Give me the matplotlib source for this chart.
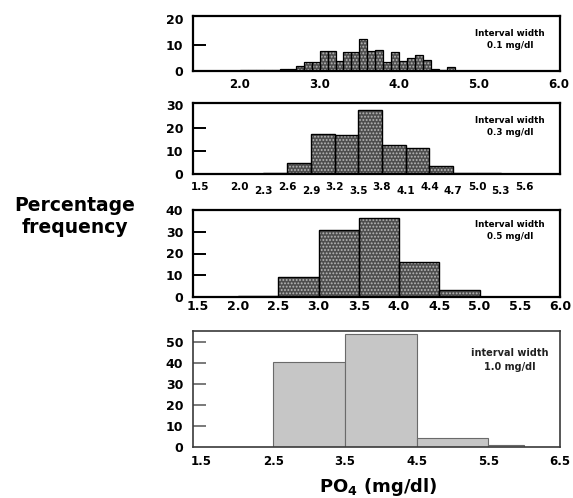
import matplotlib
matplotlib.use("Agg")
import matplotlib.pyplot as plt
import numpy as np

# ---------------- data ----------------
# Panel 1: interval width 0.1 mg/dl (left bin edges, % frequency)
p1_bins = [2.0, 2.1, 2.2, 2.3, 2.4, 2.5, 2.6, 2.7, 2.8, 2.9, 3.0, 3.1, 3.2, 3.3,
           3.4, 3.5, 3.6, 3.7, 3.8, 3.9, 4.0, 4.1, 4.2, 4.3, 4.4, 4.5, 4.6]
p1_vals = [0.3, 0.3, 0.3, 0.4, 0.5, 0.6, 0.9, 2.0, 3.3, 3.3, 7.6, 7.6, 3.7, 7.4,
           7.4, 12.4, 7.5, 8.2, 3.3, 7.2, 3.9, 4.8, 6.1, 4.3, 0.7, 0.3, 1.7]
p1_xticks = [2.0, 3.0, 4.0, 5.0, 6.0]
p1_yticks = [0, 10, 20]

# Panel 2: interval width 0.3 mg/dl
p2_bins = [2.0, 2.3, 2.6, 2.9, 3.2, 3.5, 3.8, 4.1, 4.4, 4.7, 5.0]
p2_vals = [0.2, 0.3, 4.8, 17.4, 17.0, 28.0, 12.6, 11.2, 3.6, 0.3, 0.3]
p2_xticks_upper = [1.5, 2.0, 2.6, 3.2, 3.8, 4.4, 5.0, 5.6]
p2_xticks_lower = [2.3, 2.9, 3.5, 4.1, 4.7, 5.3]
p2_yticks = [0, 10, 20, 30]

# Panel 3: interval width 0.5 mg/dl
p3_bins = [2.0, 2.5, 3.0, 3.5, 4.0, 4.5]
p3_vals = [0.3, 9.3, 31.0, 36.3, 16.2, 3.0]
p3_xticks = [1.5, 2.0, 2.5, 3.0, 3.5, 4.0, 4.5, 5.0, 5.5, 6.0]
p3_yticks = [0, 10, 20, 30, 40]

# Panel 4: interval width 1.0 mg/dl (bin edges)
p4_edges = [2.5, 3.5, 4.5, 5.5, 6.0]
p4_vals = [40.3, 53.7, 4.1, 0.8]
p4_xticks = [1.5, 2.5, 3.5, 4.5, 5.5, 6.5]
p4_yticks = [0, 10, 20, 30, 40, 50]

titles = ["Interval width\n0.1 mg/dl", "Interval width\n0.3 mg/dl",
          "Interval width\n0.5 mg/dl", "interval width\n1.0 mg/dl"]

# ---------------- figure ----------------
W, H = 573, 498
plt.rcParams['font.family'] = ['DejaVu Sans']
plt.rcParams['hatch.linewidth'] = 0.9
fig = plt.figure(figsize=(W / 100, H / 100), dpi=100)

left_px, right_px = 193, 560


def make_ax(top_px, bot_px):
    return fig.add_axes([left_px / W, 1 - bot_px / H,
                         (right_px - left_px) / W, (bot_px - top_px) / H])


def stipple_bars(ax, x, h, width, lw):
    # dark stippled fill, then a black outline
    ax.bar(x, h, width=width, align='edge', color='#4e4e4e',
           edgecolor='#b8b8b8', hatch='.....', linewidth=0)
    ax.bar(x, h, width=width, align='edge', fill=False,
           edgecolor='black', linewidth=lw)


def style(ax, lw=1.6, color='black', ylabsize=9, hide_top=True):
    for s in ax.spines.values():
        s.set_linewidth(lw)
        s.set_color(color)
    ax.tick_params(axis='y', direction='in', length=9.5, width=1.4,
                   pad=7, labelsize=ylabsize, color=color)
    ax.tick_params(axis='x', length=0, labelsize=8.5)
    ticks = ax.yaxis.get_major_ticks()
    ticks[0].tick1line.set_visible(False)
    if hide_top:
        ticks[-1].tick1line.set_visible(False)
    for lab in ax.get_yticklabels() + ax.get_xticklabels():
        lab.set_fontweight('bold')


# Panel 1
ax1 = make_ax(16, 71)
stipple_bars(ax1, p1_bins, p1_vals, 0.1, 0.9)
ax1.set_xlim(1.41, 6.02)
ax1.set_ylim(0, 21)
ax1.set_xticks(p1_xticks, [f"{v:.1f}" for v in p1_xticks])
ax1.set_yticks(p1_yticks, [str(v) for v in p1_yticks])
style(ax1)
ax1.tick_params(axis='x', pad=5)
for lab in ax1.get_xticklabels():
    lab.set_fontweight('bold')
ax1.text(0.864, 0.58, titles[0], transform=ax1.transAxes, ha='center',
         va='center', fontsize=6.3, fontweight='bold', linespacing=1.45)

# Panel 2
ax2 = make_ax(103, 174)
stipple_bars(ax2, p2_bins, p2_vals, 0.3, 1.0)
ax2.set_xlim(1.41, 6.05)
ax2.set_ylim(0, 31)
ax2.set_xticks(p2_xticks_upper, [f"{v:.1f}" for v in p2_xticks_upper])
ax2.set_xticks(p2_xticks_lower, [f"{v:.1f}" for v in p2_xticks_lower], minor=True)
ax2.set_yticks(p2_yticks, [str(v) for v in p2_yticks])
style(ax2)
ax2.tick_params(axis='x', which='major', pad=5.5, labelsize=7.5)
ax2.tick_params(axis='x', which='minor', length=0, pad=8.3, labelsize=7.5)
for lab in ax2.get_xticklabels() + ax2.get_xticklabels(minor=True):
    lab.set_fontweight('bold')
ax2.text(0.864, 0.67, titles[1], transform=ax2.transAxes, ha='center',
         va='center', fontsize=6.3, fontweight='bold', linespacing=1.45)

# Panel 3
ax3 = make_ax(210, 297)
stipple_bars(ax3, p3_bins, p3_vals, 0.5, 1.0)
ax3.set_xlim(1.44, 6.0)
ax3.set_ylim(0, 40)
ax3.set_xticks(p3_xticks, [f"{v:.1f}" for v in p3_xticks])
ax3.set_yticks(p3_yticks, [str(v) for v in p3_yticks])
style(ax3)
ax3.tick_params(axis='x', pad=2.5, labelsize=9)
for lab in ax3.get_xticklabels():
    lab.set_fontweight('bold')
ax3.text(0.864, 0.76, titles[2], transform=ax3.transAxes, ha='center',
         va='center', fontsize=6.3, fontweight='bold', linespacing=1.45)

# Panel 4
ax4 = make_ax(331, 447)
ax4.bar(p4_edges[:-1], p4_vals, width=np.diff(p4_edges), align='edge',
        color='#c6c6c6', edgecolor='#6a6a6a', linewidth=0.8)
ax4.set_xlim(1.38, 6.5)
ax4.set_ylim(0, 55.2)
ax4.set_xticks(p4_xticks, [f"{v:.1f}" for v in p4_xticks])
ax4.set_yticks(p4_yticks, [str(v) for v in p4_yticks])
style(ax4, lw=1.2, color='#3a3a3a', hide_top=False)
ax4.tick_params(axis='y', color='#555555', width=1.1)
ax4.tick_params(axis='x', pad=6)
for lab in ax4.get_xticklabels():
    lab.set_fontweight('bold')
ax4.text(0.864, 0.754, titles[3], transform=ax4.transAxes, ha='center',
         va='center', fontsize=7, fontweight='bold', linespacing=1.5,
         color='#222222')

# Shared labels
fig.text(75 / W, 1 - 216 / H, "Percentage\nfrequency", ha='center',
         va='center', fontsize=13.5, fontweight='bold', linespacing=1.2)
fig.text(378 / W, 1 - 487 / H, r"PO$_{\mathbf{4}}$ (mg/dl)", ha='center',
         va='center', fontsize=13, fontweight='bold')

fig.savefig("out.png", dpi=100)
